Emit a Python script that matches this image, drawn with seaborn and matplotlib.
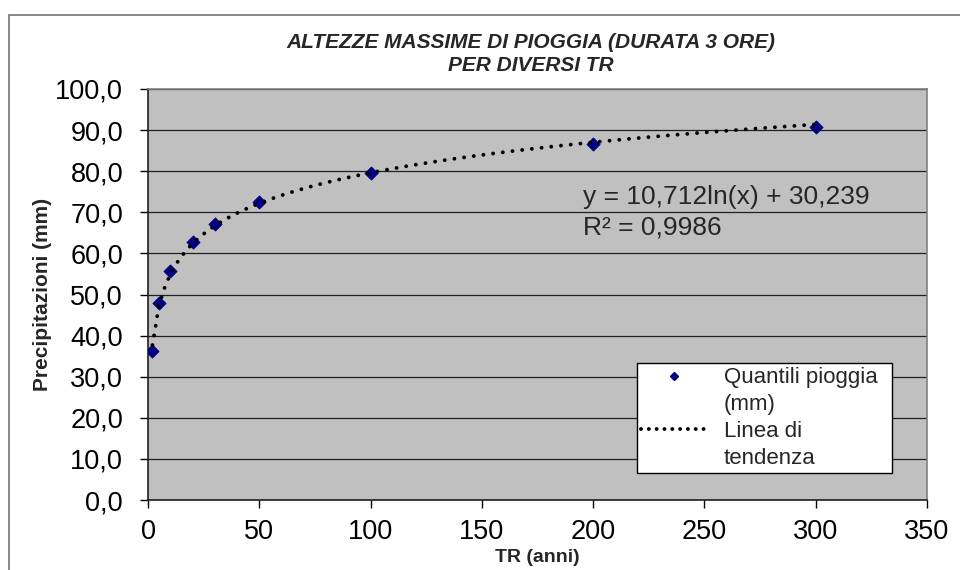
import numpy as np
import pandas as pd
import matplotlib
matplotlib.use("Agg")
import matplotlib.pyplot as plt
from matplotlib.lines import Line2D
from matplotlib.patches import Rectangle
from matplotlib.ticker import FuncFormatter, MultipleLocator
import seaborn as sns

# ---- data ----
tr_years = [2, 5, 10, 20, 30, 50, 100, 200, 300]
rain_mm = [36.3, 47.9, 55.7, 62.8, 67.2, 72.6, 79.5, 86.6, 90.8]
title_lines = ["ALTEZZE MASSIME DI PIOGGIA (DURATA 3 ORE)", "PER DIVERSI TR"]
eq_text = "y = 10,712ln(x) + 30,239"
r2_text = "R² = 0,9986"
legend_labels = ["Quantili pioggia", "(mm)", "Linea di", "tendenza"]
x_label = "TR (anni)"
y_label = "Precipitazioni (mm)"

df = pd.DataFrame({"TR": tr_years, "P": rain_mm})

sns.set_style("white")
plt.rcParams['font.family'] = ['Liberation Sans', 'DejaVu Sans']

fig = plt.figure(figsize=(9.6, 5.7), dpi=100)
ax = fig.add_axes([148/960, 1-500/570, (927-148)/960, (500-89)/570])
ax.set_facecolor("#C0C0C0")

# outer chart frame
fig.patches.append(Rectangle((9/960, -0.2), 1.5, 1.2 - 15/570,
                             transform=fig.transFigure, fill=False,
                             edgecolor="#7f7f7f", lw=1.3, zorder=0))

sns.scatterplot(data=df, x="TR", y="P", marker="D", s=46, color="#000080",
                edgecolor="#000080", linewidth=0.5, ax=ax, zorder=3, legend=False)
sns.regplot(data=df, x="TR", y="P", logx=True, scatter=False, ci=None, ax=ax,
            line_kws=dict(color="black", lw=2.8, linestyle=(0, (0.01, 2.5)),
                          dash_capstyle="round", zorder=4))

ax.set_xlim(0, 350)
ax.set_ylim(0, 100)
ax.xaxis.set_major_locator(MultipleLocator(50))
ax.yaxis.set_major_locator(MultipleLocator(10))
ax.yaxis.set_major_formatter(FuncFormatter(lambda v, p: f"{v:.1f}".replace(".", ",")))
ax.xaxis.set_major_formatter(FuncFormatter(lambda v, p: f"{v:.0f}"))
ax.grid(axis="y", color="#202020", lw=0.9)
ax.grid(axis="x", visible=False)
ax.set_axisbelow(True)

ax.tick_params(axis="both", which="major", direction="out", length=6, width=1,
               color="black", labelsize=19.5, labelcolor="black")
ax.tick_params(axis="y", pad=12)
ax.tick_params(axis="x", pad=8)
ax.tick_params(bottom=True, left=True)

for side in ["left", "bottom"]:
    ax.spines[side].set_color("#202020")
    ax.spines[side].set_linewidth(1.2)
for side in ["top", "right"]:
    ax.spines[side].set_color("#808080")
    ax.spines[side].set_linewidth(1.2)

ax.set_xlabel(x_label, fontsize=14, fontweight="bold")
ax.set_ylabel(y_label, fontsize=15, fontweight="bold")
ax.xaxis.set_label_coords(0.5, (500-549)/411)
ax.yaxis.set_label_coords((52-148)/779, 0.5)

fig.text(531/960, 1-54/570, "\n".join(title_lines), ha="center", va="center",
         fontsize=15, fontweight="bold", fontstyle="italic", linespacing=1.3)

ax.text(195.5, 73.7, eq_text, fontsize=19, ha="left", va="center")
ax.text(195.5, 66.2, r2_text, fontsize=19, ha="left", va="center")

handles = [
    Line2D([], [], marker="D", color="#000080", ls="none", markersize=4.2),
    Line2D([], [], ls="none"),
    Line2D([], [], color="black", lw=2.8, linestyle=(0, (0.01, 2.0)), dash_capstyle="round"),
    Line2D([], [], ls="none"),
]
leg = ax.legend(handles, legend_labels, loc="upper left",
                bbox_to_anchor=((637-148)/779, (500-475)/411, (892-637)/779, (475-363)/411),
                mode="expand", borderaxespad=0, fontsize=16, frameon=True, fancybox=False,
                framealpha=1, edgecolor="black", handlelength=2.9, handletextpad=0.8,
                borderpad=0.2, labelspacing=0.26)
leg.get_frame().set_linewidth(1.0)

fig.savefig("out.png", dpi=100)
